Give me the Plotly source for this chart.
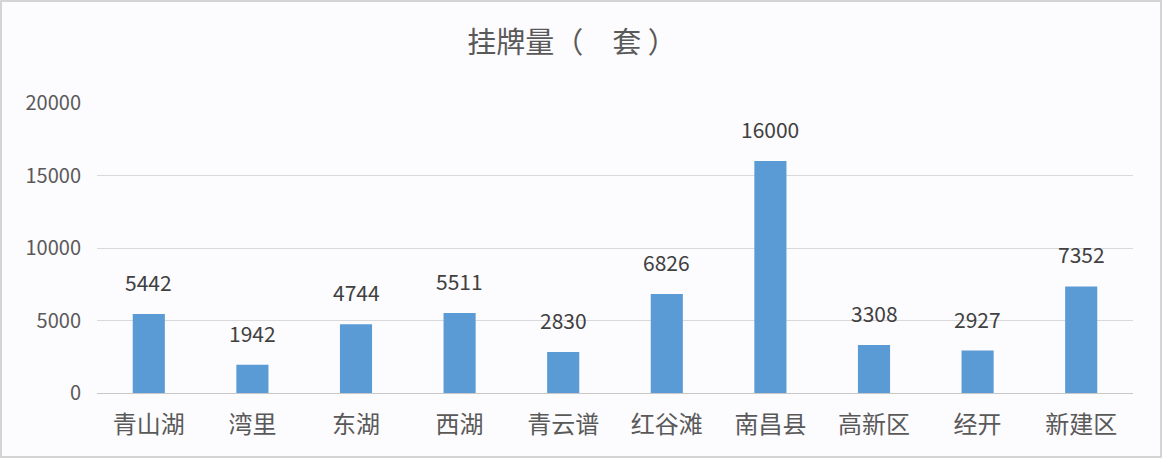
import plotly.graph_objects as go

# 挂牌量数据
regions = ["青山湖", "湾里", "东湖", "西湖", "青云谱", "红谷滩", "南昌县", "高新区", "经开", "新建区"]
listings = [5442, 1942, 4744, 5511, 2830, 6826, 16000, 3308, 2927, 7352]
y_ticks = [0, 5000, 10000, 15000, 20000]

font_cn = "Noto Sans CJK SC"
grey = "#595959"

W, H = 1162, 458
L, R, T, B = 97, 29, 103, 65
pw, ph = W - L - R, H - T - B

fig = go.Figure()
fig.add_trace(go.Bar(
    x=regions, y=listings,
    marker=dict(color="#5b9bd5", line=dict(width=0)),
    hoverinfo="x+y",
))

# value labels floating above each bar
for r, v in zip(regions, listings):
    fig.add_annotation(
        x=r, y=v, text=str(v), showarrow=False,
        yanchor="bottom", yshift=15,
        font=dict(family=font_cn, size=21, color="#404040"),
    )

fig.update_layout(
    width=W, height=H,
    margin=dict(l=L, r=R, t=T, b=B),
    paper_bgcolor="#fcfbfd",
    plot_bgcolor="#fcfbfd",
    bargap=0.69,
    showlegend=False,
    title=dict(
        text="挂牌量（\u3000套 ）", x=572 / W, xanchor="center", y=1 - 43 / H, yanchor="middle",
        font=dict(family=font_cn, size=29, color=grey),
    ),
    xaxis=dict(
        showgrid=False, showline=True, linecolor="#c8c8c8", linewidth=1,
        ticks="", tickfont=dict(family=font_cn, size=24, color=grey),
        ticklabelstandoff=10,
    ),
    yaxis=dict(
        range=[0, 20000], tickvals=y_ticks, ticktext=[str(t) for t in y_ticks],
        showgrid=True, gridcolor="#d9d9d9", gridwidth=1,
        zeroline=False, showline=False,
        tickfont=dict(family=font_cn, size=20, color=grey),
        ticklabelstandoff=15,
    ),
    shapes=[dict(
        type="rect", xref="paper", yref="paper",
        x0=-(L - 1) / pw, x1=1 + (R - 1) / pw, y0=-(B - 1) / ph, y1=1 + (T - 1) / ph,
        line=dict(color="#c8c8c8", width=1.5), layer="below",
    )],
)

# drop the default page margin so the chart sits at the window's corner
fig.write_html(
    "out.html",
    config={"displayModeBar": False},
    post_script="document.body.style.margin='0';",
)
